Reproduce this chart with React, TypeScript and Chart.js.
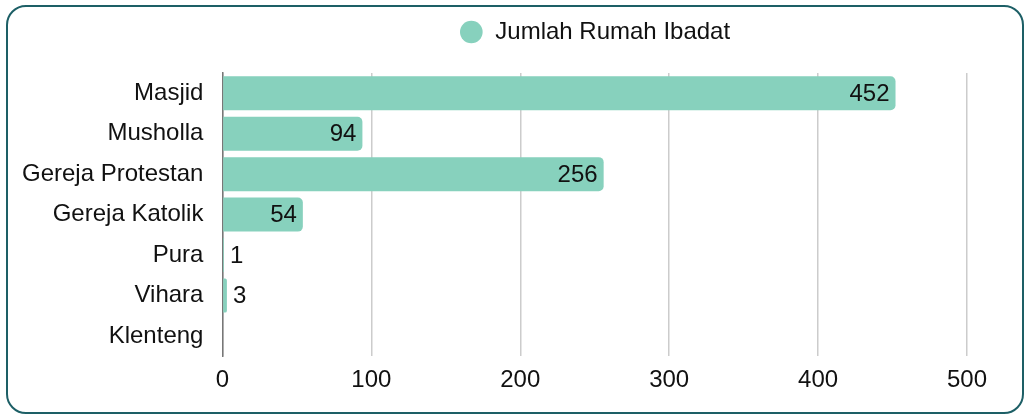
import React, { useEffect, useRef } from "react";
import { Chart, registerables } from "chart.js";

Chart.register(...registerables);

const categories = ["Masjid", "Musholla", "Gereja Protestan", "Gereja Katolik", "Pura", "Vihara", "Klenteng"];
const values = [452, 94, 256, 54, 1, 3, 0];
const seriesName = "Jumlah Rumah Ibadat";
const xTicks = [0, 100, 200, 300, 400, 500];

const FONT = "'Liberation Sans', Arial, sans-serif";
const FS = 24;
const BAR = "#87D1BD";

const valueLabels = {
  id: "valueLabels",
  afterDatasetsDraw(chart: any) {
    const ctx = chart.ctx;
    const meta = chart.getDatasetMeta(0);
    ctx.save();
    ctx.font = `${FS}px ${FONT}`;
    ctx.fillStyle = "#111";
    ctx.textBaseline = "middle";
    meta.data.forEach((el: any, i: number) => {
      const v = values[i];
      if (!v) return;
      const txt = String(v);
      const w = ctx.measureText(txt).width;
      const barW = el.x - el.base;
      if (barW > w + 12) {
        ctx.textAlign = "right";
        ctx.fillText(txt, el.x - 6, el.y + 1);
      } else {
        ctx.textAlign = "left";
        ctx.fillText(txt, el.x + 6, el.y + 1);
      }
    });
    ctx.restore();
  },
};

const legendSpacing = {
  id: "legendSpacing",
  beforeInit(chart: any) {
    const legend = chart.legend;
    if (!legend) return;
    const orig = legend.fit;
    legend.fit = function () {
      orig.call(this);
      this.height += 19;
    };
  },
};

export default function App() {
  const ref = useRef<HTMLCanvasElement>(null);
  useEffect(() => {
    if (!ref.current) return;
    const chart = new Chart(ref.current, {
      type: "bar",
      data: {
        labels: categories,
        datasets: [
          {
            label: seriesName,
            data: values,
            backgroundColor: BAR,
            borderColor: BAR,
            borderWidth: 0,
            borderRadius: 5,
            borderSkipped: "start",
            categoryPercentage: 1,
            barPercentage: 0.84,
          },
        ],
      },
      options: {
        indexAxis: "y",
        animation: false,
        responsive: false,
        maintainAspectRatio: false,
        layout: { padding: { top: 3, left: -5, right: 55, bottom: 7 } },
        font: { family: FONT },
        plugins: {
          legend: {
            position: "top",
            fullSize: false,
            labels: {
              usePointStyle: true,
              pointStyle: "circle",
              boxWidth: 24,
              boxHeight: 16,
              padding: 10,
              color: "#111",
              font: { family: FONT, size: FS },
            },
          },
          tooltip: { enabled: false },
        },
        scales: {
          x: {
            min: 0,
            max: 500,
            afterBuildTicks: (axis: any) => {
              axis.ticks = xTicks.map((v) => ({ value: v }));
            },
            grid: { color: "#cccccc", lineWidth: 1.5, drawTicks: false },
            border: { display: false },
            ticks: { color: "#111", padding: 10, font: { family: FONT, size: FS } },
          },
          y: {
            grid: { display: false, drawTicks: false },
            border: { display: true, color: "#777", width: 1.5 },
            ticks: { color: "#111", padding: 19, font: { family: FONT, size: FS } },
          },
        },
      },
      plugins: [legendSpacing, valueLabels],
    } as any);
    return () => chart.destroy();
  }, []);
  return (
    <div
      style={{
        position: "fixed",
        left: 6,
        top: 5,
        width: 1018,
        height: 409,
        boxSizing: "border-box",
        border: "2px solid #1d5f66",
        borderRadius: 20,
        background: "#fff",
        overflow: "hidden",
      }}
    >
      <canvas ref={ref} width={1014} height={405} style={{ display: "block", width: 1014, height: 405 }} />
    </div>
  );
}
